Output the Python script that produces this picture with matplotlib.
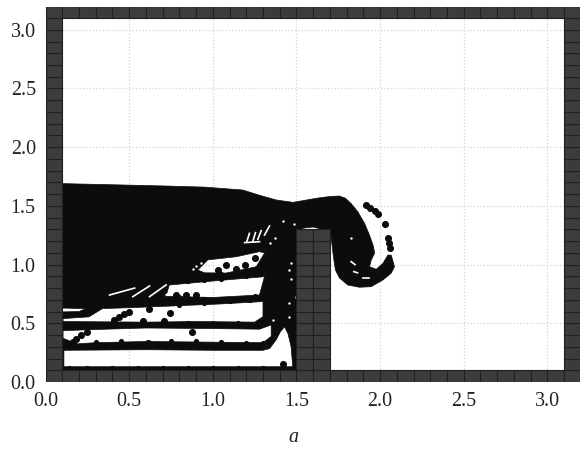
import numpy as np
import matplotlib
matplotlib.use('Agg')
from matplotlib import pyplot as plt
from matplotlib.collections import PatchCollection
from matplotlib.path import Path
from matplotlib.patches import PathPatch, Rectangle

plt.rcParams['font.family'] = ['Liberation Serif', 'DejaVu Serif']

# contorno do fluido
contorno_x = [0.09, 0.40, 0.70, 0.95, 1.18, 1.28, 1.38, 1.48, 1.62, 1.70, 1.757, 1.793, 1.827, 1.867,
              1.907, 1.937, 1.961, 1.967, 1.947, 1.937, 1.977, 2.017, 2.047, 2.067, 2.086, 2.066,
              2.017, 1.947, 1.877, 1.807, 1.757, 1.733, 1.721, 1.708, 1.688, 1.648, 1.60, 1.54,
              1.51, 1.50, 1.50, 0.09]
contorno_y = [1.69, 1.68, 1.67, 1.66, 1.635, 1.59, 1.55, 1.53, 1.565, 1.58, 1.584, 1.565, 1.52, 1.45,
              1.352, 1.25, 1.153, 1.096, 1.039, 0.982, 0.96, 1.011, 1.082, 1.08, 0.982, 0.926,
              0.869, 0.812, 0.807, 0.826, 0.886, 0.954, 1.067, 1.224, 1.267, 1.303, 1.32, 1.31,
              1.27, 1.20, 0.09, 0.09]

# regioes sem fluido entre as camadas
vazio_1 = [(0.11, 0.27), (0.60, 0.275), (1.00, 0.27), (1.30, 0.27), (1.34, 0.285), (1.379, 0.36), (1.405, 0.43),
           (1.429, 0.471), (1.45, 0.41), (1.468, 0.30), (1.478, 0.13), (0.11, 0.13)]
vazio_2 = [(0.105, 0.372), (0.105, 0.437), (0.25, 0.445), (0.60, 0.46), (1.00, 0.455), (1.28, 0.45), (1.349, 0.486),
           (1.349, 0.388), (1.30, 0.335), (0.60, 0.345), (0.30, 0.335), (0.19, 0.325)]
vazio_3 = [(0.105, 0.515), (0.105, 0.54), (0.26, 0.555), (0.34, 0.625), (0.54, 0.635), (0.80, 0.65),
           (1.05, 0.665), (1.30, 0.685), (1.30, 0.556), (1.25, 0.51), (0.90, 0.515), (0.60, 0.51)]
vazio_5 = [(0.10, 0.597), (0.10, 0.63), (0.24, 0.625), (0.20, 0.60)]
vazio_6 = [(0.72, 0.73), (0.74, 0.826), (1.00, 0.86), (1.309, 0.897), (1.279, 0.741), (1.00, 0.72)]
vazio_7 = [(0.91, 0.954), (0.97, 1.04), (1.14, 1.067), (1.279, 1.11), (1.31, 1.10), (1.26, 0.982),
           (1.08, 0.928), (0.95, 0.93)]
vazios = [vazio_1, vazio_2, vazio_3, vazio_5, vazio_6, vazio_7]

# particulas soltas
soltas_x = [0.138, 0.163, 0.183, 0.213, 0.25, 0.412, 0.442, 0.472, 0.502, 0.618, 0.58, 0.711, 0.747, 0.875,
            0.612, 0.781, 0.837, 0.90, 1.03, 1.08, 1.14, 1.19, 1.255, 2.03, 2.045, 2.056, 2.062,
            1.913, 1.937, 1.967, 1.99, 1.42]
soltas_y = [0.315, 0.344, 0.364, 0.40, 0.429, 0.528, 0.556, 0.579, 0.599, 0.619, 0.522, 0.522, 0.59, 0.426,
            0.33, 0.741, 0.741, 0.741, 0.954, 0.997, 0.96, 0.997, 1.054, 1.345, 1.226, 1.187, 1.14,
            1.508, 1.482, 1.457, 1.431, 0.15]

# particulas nas bordas das camadas
borda_x = [0.14, 0.25, 0.40, 0.55, 0.70, 0.85, 1.00, 1.15, 1.30, 0.30, 0.45, 0.75, 0.90, 1.05, 1.20, 1.30,
           0.45, 0.70, 0.85, 1.00, 1.15, 1.28, 0.80, 0.95, 1.10, 1.22, 0.80, 0.95, 1.10, 1.25, 0.85, 0.95, 1.05, 1.20,
           1.27, 1.15, 1.05, 0.95]
borda_y = [0.115, 0.115, 0.115, 0.115, 0.115, 0.115, 0.115, 0.115, 0.115, 0.34, 0.35, 0.35, 0.345, 0.34, 0.335,
           0.335, 0.495, 0.50, 0.50, 0.50, 0.50, 0.50, 0.66, 0.67, 0.69, 0.70, 0.72, 0.71, 0.71, 0.73, 0.86, 0.87, 0.88,
           0.90, 0.96, 0.93, 0.92, 0.915]

# pequenos espacos brancos dentro do fluido
brancos_x = [1.418, 1.488, 1.339, 1.369, 1.468, 1.458, 1.498, 0.88, 0.90, 0.93, 1.47, 1.458, 1.458, 1.36, 1.827]
brancos_y = [1.374, 1.346, 1.181, 1.227, 1.013, 0.954, 0.727, 0.96, 0.985, 1.01, 0.88, 0.67, 0.555, 0.53, 1.23]

# riscos brancos: x1, y1, x2, y2
riscos_x1 = [0.383, 0.522, 0.622, 0.721, 1.219, 1.255, 1.289, 1.339, 1.19, 1.827, 1.843, 1.90]
riscos_y1 = [0.741, 0.727, 0.727, 0.741, 1.266, 1.272, 1.289, 1.329, 1.187, 1.025, 0.94, 0.888]
riscos_x2 = [0.533, 0.622, 0.721, 0.80, 1.203, 1.239, 1.269, 1.309, 1.279, 1.85, 1.865, 1.935]
riscos_y2 = [0.80, 0.818, 0.827, 0.812, 1.195, 1.195, 1.215, 1.252, 1.195, 1.00, 0.93, 0.888]

ticks = [0.0, 0.5, 1.0, 1.5, 2.0, 2.5, 3.0]
rotulos = ['0.0', '0.5', '1.0', '1.5', '2.0', '2.5', '3.0']

fig = plt.figure(figsize=(5.8, 4.5), dpi=100)
ax = fig.add_axes([45.5 / 580, 68 / 450, 534.5 / 580, 375 / 450])
ax.set_xlim(0, 3.195)
ax.set_ylim(0, 3.194)

ax.grid(True, color='#d4d4d4', linestyle=':', linewidth=0.9, zorder=1)
ax.set_axisbelow(True)

# fluido com os vazios recortados
caminhos = [Path(np.column_stack([contorno_x, contorno_y]))]
for vazio in vazios:
    pts = np.array(vazio)
    area = np.sum(pts[:, 0] * np.roll(pts[:, 1], -1) - np.roll(pts[:, 0], -1) * pts[:, 1])
    if area < 0:
        pts = pts[::-1]
    caminhos.append(Path(np.vstack([pts, pts[0]]), closed=True))
ax.add_patch(PathPatch(Path.make_compound_path(*caminhos), facecolor='#0c0c0c', edgecolor='#0c0c0c',
                       linewidth=0.5, zorder=2))

ax.scatter(borda_x, borda_y, s=14, color='#0c0c0c', linewidths=0, zorder=3)
ax.scatter(soltas_x, soltas_y, s=26, color='#0c0c0c', linewidths=0, zorder=3)
ax.scatter(brancos_x, brancos_y, s=3, color='white', linewidths=0, zorder=3)
for i in range(len(riscos_x1)):
    ax.plot([riscos_x1[i], riscos_x2[i]], [riscos_y1[i], riscos_y2[i]], color='white', linewidth=1.2, zorder=3)

# paredes e bloco
celulas = []
for i in range(32):
    for j in range(32):
        xc = i * 0.1 + 0.05
        yc = j * 0.1 + 0.05
        if xc < 0.1 or xc > 3.1 or yc < 0.1 or yc > 3.1 or (1.5 < xc < 1.7 and yc < 1.3):
            celulas.append(Rectangle((i * 0.1, j * 0.1), 0.1, 0.1))
ax.add_collection(PatchCollection(celulas, facecolor='#3c3c3c', edgecolor='#202020', linewidth=0.8, zorder=4))

ax.set_xticks(ticks)
ax.set_xticklabels(rotulos)
ax.set_yticks(ticks)
ax.set_yticklabels(rotulos)
ax.tick_params(length=0, labelsize=14.4, pad=7, colors='#222222')
for lado in ax.spines.values():
    lado.set_visible(False)

fig.text(293 / 580, 1 - 437 / 450, 'a', fontsize=14.4, style='italic', ha='center', va='center', color='#222222')

fig.savefig('out.png', dpi=100)
